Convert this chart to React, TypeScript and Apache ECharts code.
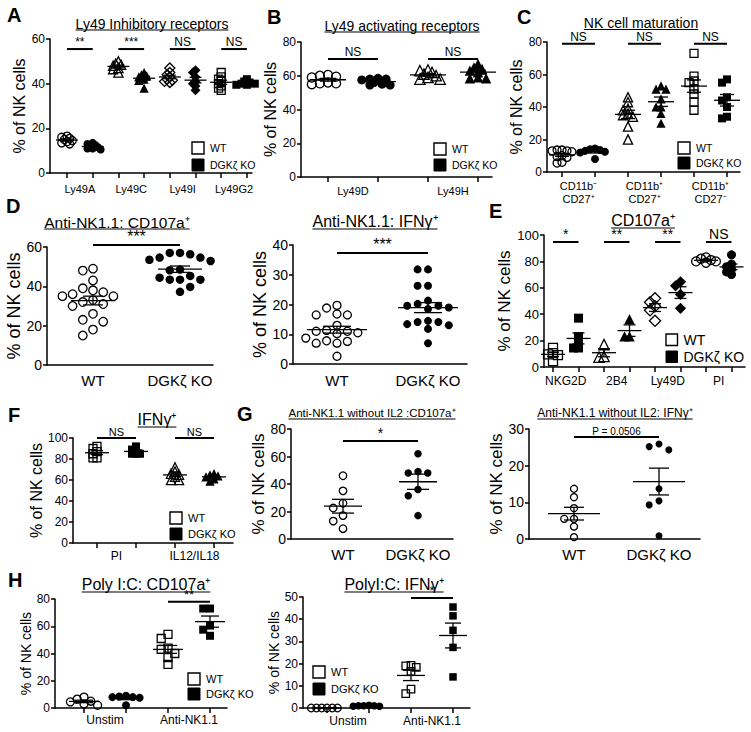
import React, { useEffect, useRef } from 'react';
import * as echarts from 'echarts';

const FONT = '"Liberation Sans", Arial, Helvetica, sans-serif';
const Y_NAME = '% of NK cells';
const WT_NAME = 'WT';
const KO_NAME = 'DGKζ KO';

// ---------- A : Ly49 inhibitory receptors ----------
const A_title = 'Ly49 Inhibitory receptors';
const A_categories = ['Ly49A', 'Ly49C', 'Ly49I', 'Ly49G2'];
const A_symbols = ['circle', 'triangle', 'diamond', 'rect'];
const A_wt = [
  [16.5, 16, 15.5, 15, 14.5, 14, 13.5, 13],
  [50, 49, 48.5, 48, 47, 46.5, 45],
  [47, 45, 44, 43, 42, 41.5, 41, 40.5],
  [45, 43, 42, 41, 40, 39, 38, 37],
];
const A_ko = [
  [13.5, 13, 12.5, 12, 11.5, 11, 11, 10.5],
  [45, 44, 43.5, 43, 42, 41.5, 38],
  [46, 45, 43, 41, 40, 39, 37],
  [42, 41, 40.5, 40, 40, 39.5, 39.5],
];
const A_sig = ['**', '***', 'NS', 'NS'];
const A_sigLevel = 55.5;
const A_yAxis = [0, 60, 20];

// ---------- B : Ly49 activating receptors ----------
const B_title = 'Ly49 activating receptors';
const B_categories = ['Ly49D', 'Ly49H'];
const B_symbols = ['circle', 'triangle'];
const B_wt = [
  [60.5, 60, 59.5, 59, 56, 55.5, 55.5, 55],
  [63.5, 63, 62, 61, 60, 59, 58, 58],
];
const B_ko = [
  [58.5, 58, 58, 57.5, 56, 55, 54.5, 54.5],
  [67, 65, 64, 63, 62, 59, 58.5, 58.5],
];
const B_sig = ['NS', 'NS'];
const B_sigLevel = 70;
const B_yAxis = [0, 80, 20];

// ---------- C : NK cell maturation ----------
const C_title = 'NK cell maturation';
const C_categories = ['CD11b⁻\nCD27⁺', 'CD11b⁺\nCD27⁺', 'CD11b⁺\nCD27⁻'];
const C_symbols = ['circle', 'triangle', 'rect'];
const C_wt = [
  [13.5, 13.5, 13, 13, 12.5, 10, 9.5, 9, 6, 5.5],
  [46, 43, 39, 38, 36, 35, 34, 28, 20],
  [73, 59, 56, 55, 51, 48, 43, 38],
];
const C_ko = [
  [14.5, 14, 13.5, 13, 12.5, 12, 8],
  [53, 51, 51, 45, 40, 40, 36, 30],
  [57, 55, 46, 44, 40, 34, 33],
];
const C_sig = ['NS', 'NS', 'NS'];
const C_sigLevel = 79;
const C_yAxis = [0, 80, 20];

// ---------- D : Anti-NK1.1 ----------
const D1_title = 'Anti-NK1.1: CD107a⁺';
const D1_wt = [49, 48, 43, 39, 38, 37, 36, 35, 35, 33, 32, 31, 30, 26, 23, 22, 18, 15];
const D1_ko = [57, 57, 56.3, 54.6, 54.6, 53.5, 52.9, 48.5, 48.2, 45.3, 44.4, 43.4, 43.4, 43.4, 39.7, 37.2];
const D1_sig = '***';
const D1_sigLevel = 61;
const D1_yAxis = [0, 60, 20];

const D2_title = 'Anti-NK1.1: IFNγ⁺';
const D2_wt = [18.8, 16.5, 16.5, 16.8, 19.7, 13, 11, 10.5, 11, 11.3, 7.8, 7, 7, 7.6, 8.7, 2.6, 10.2];
const D2_ko = [31.8, 31.8, 26.3, 26.3, 21.3, 19.6, 19.6, 20.2, 14.5, 13.4, 11.8, 14.1, 14.1, 7, 19, 18.5, 13];
const D2_sig = '***';
const D2_sigLevel = 37.3;
const D2_yAxis = [0, 40, 10];

// ---------- E : CD107a+ ----------
const E_title = 'CD107a⁺';
const E_categories = ['NKG2D', '2B4', 'Ly49D', 'PI'];
const E_symbols = ['rect', 'triangle', 'diamond', 'circle'];
const E_wt = [
  [14.5, 10.5, 9.5, 9, 4.5],
  [17, 8, 7.5],
  [52, 49, 46, 43, 35],
  [83, 82, 81, 80, 80, 79],
];
const E_ko = [
  [37, 23, 19.4, 14.4, 14.4],
  [36.3, 23.2, 23.2],
  [64.5, 61.5, 55, 44.5],
  [85, 78, 76, 74, 72, 70],
];
const E_sig = ['*', '**', '**', 'NS'];
const E_sigLevel = 94.7;
const E_yAxis = [0, 100, 20];

// ---------- F : IFNg+ ----------
const F_title = 'IFNγ⁺';
const F_categories = ['PI', 'IL12/IL18'];
const F_symbols = ['rect', 'triangle'];
const F_wt = [
  [92, 90, 87, 85, 81, 81],
  [72, 68, 66, 65, 63, 60, 60],
];
const F_ko = [
  [92, 89, 85, 85, 85],
  [66, 65, 64, 63, 61, 59],
];
const F_sig = ['NS', 'NS'];
const F_sigLevel = 100;
const F_yAxis = [0, 100, 20];

// ---------- G : without IL2 ----------
const G1_title = 'Anti-NK1.1 without IL2 :CD107a⁺';
const G1_wt = [46, 35, 26, 22.5, 17, 13, 7.5];
const G1_ko = [62, 49, 48, 48, 36, 31.5, 17];
const G1_sig = '*';
const G1_sigLevel = 71.3;
const G1_yAxis = [0, 80, 20];

const G2_title = 'Anti-NK1.1 without IL2: IFNγ⁺';
const G2_wt = [13.7, 11.4, 8.4, 5.5, 5.5, 3.4, 0.5];
const G2_ko = [25.9, 25.2, 24.3, 13.7, 10.4, 9.3, 0.9];
const G2_sig = 'P = 0.0506';
const G2_sigLevel = 27.8;
const G2_yAxis = [0, 30, 10];

// ---------- H : Poly I:C ----------
const H_categories = ['Unstim', 'Anti-NK1.1'];
const H_symbols = ['circle', 'rect'];
const H1_title = 'Poly I:C: CD107a⁺';
const H1_wt = [
  [8, 6.5, 5, 4.5, 3, 2],
  [54, 51, 44, 43, 40, 37, 32],
];
const H1_ko = [
  [9, 8.5, 8, 8, 7.5, 2],
  [73, 73, 60.5, 57.5, 53],
];
const H1_sig = '**';
const H1_sigLevel = 78;
const H1_yAxis = [0, 80, 20];

const H2_title = 'PolyI:C: IFNγ⁺';
const H2_wt = [
  [0, 0, 0, 0, 0, 0],
  [19.2, 19, 18.3, 16.5, 8.5, 6.5],
];
const H2_ko = [
  [1, 1, 1, 0.8, 0.8, 1.2],
  [45.5, 41.5, 35, 27.3, 14],
];
const H2_sig = '*';
const H2_sigLevel = 49.5;
const H2_yAxis = [0, 50, 10];

// ------------------------------------------------------------------
type Group = { pos: number; values: number[]; symbol: string; filled: boolean };
type Label = { pos: number; text: string };
type Sig = { from: number; to: number; text: string };

function paired(categories: string[], symbols: string[], wt: number[][], ko: number[][], sig: string[]) {
  const groups: Group[] = [];
  const labels: Label[] = [];
  const sigs: Sig[] = [];
  const ticks: number[] = [];
  categories.forEach((c, i) => {
    groups.push({ pos: 2 * i, values: wt[i], symbol: symbols[i], filled: false });
    groups.push({ pos: 2 * i + 1, values: ko[i], symbol: symbols[i], filled: true });
    labels.push({ pos: 2 * i + 0.5, text: c });
    ticks.push(2 * i, 2 * i + 1);
    if (sig[i] !== undefined) sigs.push({ from: 2 * i, to: 2 * i + 1, text: sig[i] });
  });
  return { groups, labels, sigs, ticks };
}

function single(wt: number[], ko: number[], sig: string) {
  return {
    groups: [
      { pos: 0, values: wt, symbol: 'circle', filled: false },
      { pos: 1, values: ko, symbol: 'circle', filled: true },
    ],
    labels: [{ pos: 0, text: WT_NAME }, { pos: 1, text: KO_NAME }],
    sigs: [{ from: 0, to: 1, text: sig }],
    ticks: [] as number[],
  };
}

function hPanel(wt: number[][], ko: number[][], sig: string) {
  const p = paired(H_categories, H_symbols, wt, ko, []);
  p.sigs = [{ from: 2, to: 3, text: sig }];
  return p;
}

const PANELS: any[] = [
  { ...paired(A_categories, A_symbols, A_wt, A_ko, A_sig), y: A_yAxis, sigLevel: A_sigLevel,
    left: 50, top: 39, right: 252, bottom: 173, col0: 67, sp: 25.7, showTicks: true,
    size: 8, stepF: 0.33, collF: 0.36, meanHalf: 11, capHalf: 6,
    fTick: 12, fName: 16, fCat: 11, fSig: 12, labelMargin: 9, nameGap: 22 },
  { ...paired(B_categories, B_symbols, B_wt, B_ko, B_sig), y: B_yAxis, sigLevel: B_sigLevel,
    left: 301, top: 42, right: 492, bottom: 177, col0: 328, sp: 50, showTicks: true,
    size: 9, stepF: 0.45, collF: 0.5, meanHalf: 18, capHalf: 8,
    fTick: 12, fName: 16, fCat: 11, fSig: 12, labelMargin: 7, nameGap: 20 },
  { ...paired(C_categories, C_symbols, C_wt, C_ko, C_sig), y: C_yAxis, sigLevel: C_sigLevel,
    left: 547, top: 42, right: 740, bottom: 172, col0: 562, sp: 33, showTicks: true,
    size: 8, stepF: 0.62, collF: 0.6, meanHalf: 13, capHalf: 7,
    fTick: 12, fName: 16, fCat: 11, fSig: 12, labelMargin: 7, nameGap: 17 },
  { ...single(D1_wt, D1_ko, D1_sig), y: D1_yAxis, sigLevel: D1_sigLevel,
    left: 47, top: 247, right: 213, bottom: 365, col0: 93, sp: 87, showTicks: false,
    size: 8.5, stepF: 1.2, collF: 1.0, meanHalf: 22, capHalf: 10,
    fTick: 14, fName: 18, fCat: 15, fSig: 16, labelMargin: 7, nameGap: 20 },
  { ...single(D2_wt, D2_ko, D2_sig), y: D2_yAxis, sigLevel: D2_sigLevel,
    left: 293, top: 245, right: 467, bottom: 364, col0: 337, sp: 91, showTicks: false,
    size: 8, stepF: 1.3, collF: 1.0, meanHalf: 30, capHalf: 14,
    fTick: 14, fName: 18, fCat: 15, fSig: 16, labelMargin: 8, nameGap: 22 },
  { ...paired(E_categories, E_symbols, E_wt, E_ko, E_sig), y: E_yAxis, sigLevel: E_sigLevel,
    left: 544, top: 235, right: 745, bottom: 367, col0: 553, sp: 25.5, showTicks: true,
    size: 9, stepF: 0.55, collF: 0.5, meanHalf: 12, capHalf: 6,
    fTick: 13, fName: 17, fCat: 12, fSig: 14, labelMargin: 7, nameGap: 20 },
  { ...paired(F_categories, F_symbols, F_wt, F_ko, F_sig), y: F_yAxis, sigLevel: F_sigLevel,
    left: 73, top: 438, right: 233, bottom: 543, col0: 97, sp: 39, showTicks: true,
    size: 8, stepF: 0.5, collF: 0.48, meanHalf: 12, capHalf: 6,
    fTick: 12, fName: 16, fCat: 12, fSig: 11, labelMargin: 6, nameGap: 25 },
  { ...single(G1_wt, G1_ko, G1_sig), y: G1_yAxis, sigLevel: G1_sigLevel,
    left: 291, top: 429, right: 453, bottom: 539, col0: 343, sp: 75, showTicks: false,
    size: 7.5, stepF: 1.3, collF: 1.0, meanHalf: 19, capHalf: 11,
    fTick: 14, fName: 17, fCat: 15, fSig: 14, labelMargin: 7, nameGap: 22 },
  { ...single(G2_wt, G2_ko, G2_sig), y: G2_yAxis, sigLevel: G2_sigLevel,
    left: 529, top: 429, right: 700, bottom: 539, col0: 574, sp: 85, showTicks: false,
    size: 7, stepF: 1.4, collF: 1.0, meanHalf: 26, capHalf: 10,
    fTick: 14, fName: 17, fCat: 15, fSig: 10, labelMargin: 7, nameGap: 22 },
  { ...hPanel(H1_wt, H1_ko, H1_sig), y: H1_yAxis, sigLevel: H1_sigLevel,
    left: 55, top: 599, right: 227, bottom: 708, col0: 84, sp: 42, showTicks: true,
    size: 8, stepF: 0.85, collF: 0.8, meanHalf: 15, capHalf: 9,
    fTick: 12, fName: 14, fCat: 12, fSig: 13, labelMargin: 5, nameGap: 17 },
  { ...hPanel(H2_wt, H2_ko, H2_sig), y: H2_yAxis, sigLevel: H2_sigLevel,
    left: 303, top: 597, right: 470, bottom: 708, col0: 327, sp: 42, showTicks: true,
    size: 7.5, stepF: 0.7, collF: 0.65, meanHalf: 14, capHalf: 8,
    fTick: 12, fName: 14, fCat: 12, fSig: 13, labelMargin: 6, nameGap: 20 },
];

// [text, centre x, underline y, font size]
const TITLES: [string, number, number, number][] = [
  [A_title, 152, 30, 14],
  [B_title, 402, 32, 14],
  [C_title, 641, 29.5, 14],
  [D1_title, 117, 229, 15.5],
  [D2_title, 375, 229, 16],
  [E_title, 643, 228, 16],
  [F_title, 157, 427, 16],
  [G1_title, 372, 419, 11.5],
  [G2_title, 615, 419, 12],
  [H1_title, 146, 592, 16],
  [H2_title, 394, 592, 16],
];

// [letter, x, y centre]
const LETTERS: [string, number, number][] = [
  ['A', 7, 15], ['B', 267, 17], ['C', 517, 17], ['D', 6, 206], ['E', 489, 211],
  ['F', 8, 415], ['G', 237, 414], ['H', 8, 580],
];

// [x, y of WT square, y of KO square, square size, font size]
const LEGENDS: [number, number, number, number, number][] = [
  [192, 142, 159, 12, 10.5],
  [434, 143, 159, 12, 10.5],
  [678, 142, 157, 12, 10.5],
  [666, 334, 351, 11.5, 14],
  [170, 512, 528, 12, 11],
  [188, 673, 688, 12, 11],
  [313, 666, 683, 12, 11],
];

function mean(v: number[]) {
  return v.reduce((a, b) => a + b, 0) / v.length;
}
function sem(v: number[]) {
  const m = mean(v);
  const sd = Math.sqrt(v.reduce((a, b) => a + (b - m) * (b - m), 0) / (v.length - 1));
  return sd / Math.sqrt(v.length);
}

function swarm(values: number[], pxY: number, pxX: number, step: number, coll: number): number[] {
  const idx = values.map((_, i) => i).sort((a, b) => values[b] - values[a]);
  const placed: number[][] = [];
  const out = new Array(values.length).fill(0);
  idx.forEach((i) => {
    const y = values[i] * pxY;
    for (let k = 0; k < 60; k++) {
      const m = Math.ceil(k / 2) * (k % 2 === 1 ? -1 : 1);
      const x = m * step;
      if (placed.every(([px, py]) => Math.hypot(px - x, py - y) >= coll)) {
        placed.push([x, y]);
        out[i] = x / pxX;
        return;
      }
    }
  });
  return out;
}

function measure(text: string, size: number, bold = false) {
  const ctx = document.createElement('canvas').getContext('2d');
  if (!ctx) return text.length * size * 0.55;
  ctx.font = `${bold ? 'bold ' : ''}${size}px ${FONT}`;
  return ctx.measureText(text).width;
}

function buildOption() {
  const grid: any[] = [];
  const xAxis: any[] = [];
  const yAxis: any[] = [];
  const series: any[] = [];
  const graphic: any[] = [];

  PANELS.forEach((p, i) => {
    const width = p.right - p.left;
    const height = p.bottom - p.top;
    const xMin = (p.left - p.col0) / p.sp;
    const xMax = (p.right - p.col0) / p.sp;
    grid.push({ left: p.left, top: p.top, width, height });
    const labelMap = new Map<string, string>(p.labels.map((l: Label) => [l.pos.toFixed(2), l.text]));
    xAxis.push({
      gridIndex: i,
      type: 'value',
      min: xMin,
      max: xMax,
      axisLine: { show: true, onZero: false, lineStyle: { color: '#000', width: 1.5 } },
      axisTick: {
        show: p.showTicks,
        customValues: p.ticks,
        length: 5,
        lineStyle: { color: '#000', width: 1.5 },
      },
      axisLabel: {
        customValues: p.labels.map((l: Label) => l.pos),
        formatter: (v: number) => labelMap.get(Number(v).toFixed(2)) ?? '',
        fontSize: p.fCat,
        fontFamily: FONT,
        color: '#000',
        margin: p.labelMargin,
        lineHeight: p.fCat + 2,
      },
      splitLine: { show: false },
    });
    yAxis.push({
      gridIndex: i,
      type: 'value',
      min: p.y[0],
      max: p.y[1],
      interval: p.y[2],
      axisLine: { show: true, onZero: false, lineStyle: { color: '#000', width: 1.5 } },
      axisTick: { show: true, length: 4, lineStyle: { color: '#000', width: 1.5 } },
      axisLabel: { fontSize: p.fTick, fontFamily: FONT, color: '#000', margin: 5 },
      splitLine: { show: false },
      name: Y_NAME,
      nameLocation: 'middle',
      nameRotate: 90,
      nameGap: p.nameGap,
      nameTextStyle: { fontSize: p.fName, fontFamily: FONT, color: '#000' },
    });

    const pxY = height / (p.y[1] - p.y[0]);
    const pxX = p.sp;
    p.groups.forEach((g: Group) => {
      const offs = swarm(g.values, pxY, pxX, p.size * p.stepF, p.size * p.collF);
      const sz = g.symbol === 'triangle' ? p.size * 1.15 : g.symbol === 'diamond' ? p.size * 1.25 : p.size;
      series.push({
        type: 'scatter',
        xAxisIndex: i,
        yAxisIndex: i,
        symbol: g.symbol,
        symbolSize: sz,
        clip: false,
        silent: true,
        z: 3,
        data: g.values.map((v, k) => [g.pos + offs[k], v]),
        itemStyle: {
          color: g.filled ? '#000' : 'rgba(255,255,255,0)',
          borderColor: '#000',
          borderWidth: g.filled ? 0 : 1.3,
          opacity: 1,
        },
      });
    });

    const mh = p.meanHalf;
    const ch = p.capHalf;
    series.push({
      type: 'custom',
      xAxisIndex: i,
      yAxisIndex: i,
      z: 5,
      silent: true,
      clip: false,
      data: p.groups.map((g: Group) => [g.pos, mean(g.values), sem(g.values)]),
      renderItem: (_params: any, api: any) => {
        const x = api.value(0);
        const m = api.value(1);
        const s = api.value(2);
        const c = api.coord([x, m]);
        const hi = api.coord([x, m + s]);
        const lo = api.coord([x, m - s]);
        const st = { stroke: '#000', lineWidth: 1.3 };
        return {
          type: 'group',
          children: [
            { type: 'line', shape: { x1: c[0] - mh, y1: c[1], x2: c[0] + mh, y2: c[1] }, style: st },
            { type: 'line', shape: { x1: c[0], y1: hi[1], x2: c[0], y2: lo[1] }, style: st },
            { type: 'line', shape: { x1: c[0] - ch, y1: hi[1], x2: c[0] + ch, y2: hi[1] }, style: st },
            { type: 'line', shape: { x1: c[0] - ch, y1: lo[1], x2: c[0] + ch, y2: lo[1] }, style: st },
          ],
        };
      },
    });

    const sigs: Sig[] = p.sigs;
    series.push({
      type: 'custom',
      xAxisIndex: i,
      yAxisIndex: i,
      z: 6,
      silent: true,
      clip: false,
      data: sigs.map((s) => [s.from, s.to, p.sigLevel]),
      renderItem: (params: any, api: any) => {
        const a = api.coord([api.value(0), api.value(2)]);
        const b = api.coord([api.value(1), api.value(2)]);
        const text = sigs[params.dataIndex].text;
        return {
          type: 'group',
          children: [
            { type: 'line', shape: { x1: a[0], y1: a[1], x2: b[0], y2: b[1] }, style: { stroke: '#000', lineWidth: 2 } },
            {
              type: 'text',
              x: (a[0] + b[0]) / 2,
              y: a[1] - 1,
              style: {
                text,
                fill: '#000',
                fontSize: p.fSig,
                fontFamily: FONT,
                textAlign: 'center',
                textVerticalAlign: 'bottom',
              },
            },
          ],
        };
      },
    });
  });

  TITLES.forEach(([text, cx, uy, size]) => {
    const w = measure(text, size);
    graphic.push({
      type: 'text',
      x: cx,
      y: uy - 0.35 * size - 1.5,
      silent: true,
      style: { text, fill: '#000', fontSize: size, fontFamily: FONT, textAlign: 'center', textVerticalAlign: 'middle' },
    });
    graphic.push({
      type: 'line',
      silent: true,
      shape: { x1: cx - w / 2, y1: uy, x2: cx + w / 2, y2: uy },
      style: { stroke: '#000', lineWidth: 1.1 },
    });
  });

  LETTERS.forEach(([t, x, y]) => {
    graphic.push({
      type: 'text',
      x,
      y,
      silent: true,
      style: { text: t, fill: '#000', fontSize: 20, fontWeight: 'bold', fontFamily: FONT, textAlign: 'left', textVerticalAlign: 'middle' },
    });
  });

  LEGENDS.forEach(([x, y1, y2, sq, fs]) => {
    graphic.push({ type: 'rect', silent: true, shape: { x, y: y1, width: sq, height: sq }, style: { fill: '#fff', stroke: '#000', lineWidth: 1.4 } });
    graphic.push({ type: 'rect', silent: true, shape: { x, y: y2, width: sq, height: sq }, style: { fill: '#000', stroke: '#000', lineWidth: 1 } });
    graphic.push({ type: 'text', silent: true, x: x + sq + 6, y: y1 + sq / 2, style: { text: WT_NAME, fill: '#000', fontSize: fs, fontFamily: FONT, textAlign: 'left', textVerticalAlign: 'middle' } });
    graphic.push({ type: 'text', silent: true, x: x + sq + 6, y: y2 + sq / 2, style: { text: KO_NAME, fill: '#000', fontSize: fs, fontFamily: FONT, textAlign: 'left', textVerticalAlign: 'middle' } });
  });

  return {
    animation: false,
    backgroundColor: '#fff',
    textStyle: { fontFamily: FONT },
    grid,
    xAxis,
    yAxis,
    series,
    graphic,
  };
}

export default function App() {
  const ref = useRef<HTMLDivElement>(null);
  useEffect(() => {
    if (!ref.current) return;
    const chart = echarts.init(ref.current, undefined, { renderer: 'svg' });
    chart.setOption(buildOption() as any);
    return () => chart.dispose();
  }, []);
  return (
    <div
      ref={ref}
      style={{ position: 'absolute', left: 0, top: 0, width: 751, height: 732, background: '#fff' }}
    />
  );
}
